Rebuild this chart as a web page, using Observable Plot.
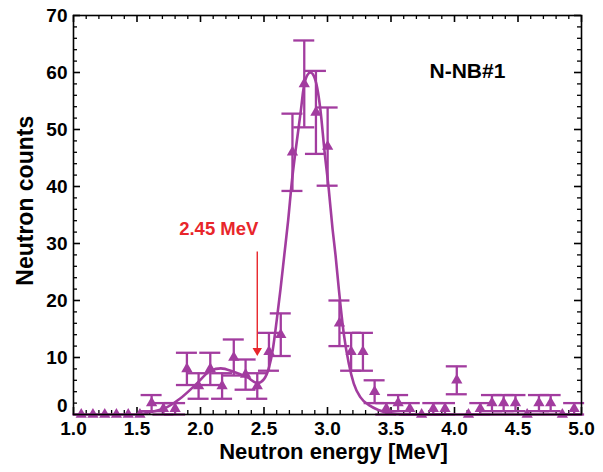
<!DOCTYPE html>
<html><head><meta charset="utf-8">
<script src="https://cdn.jsdelivr.net/npm/d3@7"></script>
<script src="https://cdn.jsdelivr.net/npm/@observablehq/plot@0.6"></script>
<style>
body{margin:0;background:#fff;}
svg{font-family:"Liberation Sans",Arial,Helvetica,sans-serif;}
</style>
</head><body><div id="chart"></div>
<script>
// Measured spectrum (bin centre energy, counts, error)
const energy = [1.061,1.153,1.246,1.338,1.431,1.523,1.615,1.708,1.800,1.893,1.985,2.077,2.170,2.262,2.355,2.447,2.539,2.632,2.724,2.817,2.909,3.001,3.094,3.186,3.279,3.371,3.463,3.556,3.648,3.741,3.833,3.925,4.018,4.110,4.203,4.295,4.387,4.480,4.572,4.665,4.757,4.849,4.942];
const counts = [0,0,0,0,0,0,2,1,1,8,5,8,5,10,7,5,11,14,46,58,53,47,16,11,11,4,1,2,1,0,1,1,6,0,1,2,2,2,0,2,2,0,1];
const errors = [0,0,0,0,0,0,1.41,1,1,2.83,2.24,2.83,2.24,3.16,2.65,2.24,3.32,3.74,6.78,7.62,7.28,6.86,4,3.32,3.32,2,1,1.41,1,0,1,1,2.45,0,1,1.41,1.41,1.41,0,1.41,1.41,0,1];
// Fit curve
const fitEnergy = [1.00,1.50,1.60,1.71,1.84,1.97,2.08,2.16,2.26,2.37,2.45,2.50,2.54,2.57,2.60,2.63,2.66,2.69,2.72,2.75,2.79,2.81,2.84,2.866,2.89,2.92,2.945,2.976,3.01,3.04,3.063,3.09,3.128,3.168,3.207,3.26,3.33,3.40,3.50,3.60,5.00];
const fitCounts = [0,0,0.4,1.0,2.8,5.4,7.7,8.1,7.5,6.5,5.5,6.2,8.3,11.5,16.5,22,28,34,41,46.5,53.3,57,59.5,60,59.5,57.2,53.3,46.3,39.5,32.5,28,21.8,14.2,8.9,5.4,3.0,1.6,0.8,0.2,0,0];
// Axis ticks
const xMajorTicks = [1.0,1.5,2.0,2.5,3.0,3.5,4.0,4.5,5.0];
const xMinorTicks = [1.1,1.2,1.3,1.4,1.6,1.7,1.8,1.9,2.1,2.2,2.3,2.4,2.6,2.7,2.8,2.9,3.1,3.2,3.3,3.4,3.6,3.7,3.8,3.9,4.1,4.2,4.3,4.4,4.6,4.7,4.8,4.9];
const yMajorTicks = [0,10,20,30,40,50,60,70];
const yMinorTicks = [2,4,6,8,12,14,16,18,22,24,26,28,32,34,36,38,42,44,46,48,52,54,56,58,62,64,66,68];
const xTitle = "Neutron energy [MeV]";
const yTitle = "Neutron counts";
const seriesLabel = "N-NB#1";
const markerLabel = "2.45 MeV";
const markerEnergy = 2.447;

const purple = "#a23c9f";
const red = "#e8262b";
const W = 603, H = 472, mT = 15, mR = 22, mB = 58, mL = 73;
const fw = W - mL - mR, fh = H - mT - mB;

const points = energy.map((x, i) => ({x, y: counts[i], e: errors[i]}));
const withErr = points.filter(d => d.e > 0);
const fit = fitEnergy.map((x, i) => ({x, y: fitCounts[i]}));
const bold = {fontWeight: "bold", fill: "black"};

const chart = Plot.plot({
  width: W, height: H,
  marginTop: mT, marginRight: mR, marginBottom: mB, marginLeft: mL,
  x: {domain: [1, 5], axis: null},
  y: {domain: [0, 70], axis: null},
  style: {background: "white", overflow: "visible"},
  marks: [
    // ticks (inward, on all four sides)
    Plot.tickX(xMinorTicks, {x: d => d, insetTop: fh - 4, stroke: "black", strokeWidth: 1.3}),
    Plot.tickX(xMinorTicks, {x: d => d, insetBottom: fh - 4, stroke: "black", strokeWidth: 1.3}),
    Plot.tickX(xMajorTicks, {x: d => d, insetTop: fh - 7, stroke: "black", strokeWidth: 1.6}),
    Plot.tickX(xMajorTicks, {x: d => d, insetBottom: fh - 7, stroke: "black", strokeWidth: 1.6}),
    Plot.tickY(yMinorTicks, {y: d => d, insetRight: fw - 4, stroke: "black", strokeWidth: 1.3}),
    Plot.tickY(yMinorTicks, {y: d => d, insetLeft: fw - 4, stroke: "black", strokeWidth: 1.3}),
    Plot.tickY(yMajorTicks, {y: d => d, insetRight: fw - 7, stroke: "black", strokeWidth: 1.6}),
    Plot.tickY(yMajorTicks, {y: d => d, insetLeft: fw - 7, stroke: "black", strokeWidth: 1.6}),
    // tick labels
    Plot.text(xMajorTicks, {x: d => d, frameAnchor: "bottom", dy: 20, text: d => d.toFixed(1), fontSize: 19, ...bold}),
    Plot.text(yMajorTicks.filter(d => d > 0), {y: d => d, frameAnchor: "left", dx: -6, textAnchor: "end", text: d => String(d), fontSize: 19, ...bold}),
    Plot.text(yMajorTicks.filter(d => d === 0), {y: d => d, frameAnchor: "left", dx: -6, dy: -9, textAnchor: "end", text: d => String(d), fontSize: 19, ...bold}),
    // axis titles
    Plot.text([xTitle], {frameAnchor: "bottom", dy: 44, dx: 6, text: d => d, fontSize: 22, ...bold}),
    Plot.text([yTitle], {x: 0.622, y: 37.5, rotate: -90, text: d => d, fontSize: 23, ...bold}),
    // fit curve
    Plot.line(fit, {x: "x", y: "y", stroke: purple, strokeWidth: 2.6, curve: "monotone-x"}),
    // error bars
    Plot.ruleX(withErr, {x: "x", y1: d => d.y - d.e, y2: d => d.y + d.e, stroke: purple, strokeWidth: 2.3}),
    Plot.ruleY(withErr, {y: d => d.y + d.e, x1: "x", x2: "x", insetLeft: -10.5, insetRight: -10.5, stroke: purple, strokeWidth: 2.3}),
    Plot.ruleY(withErr, {y: d => d.y - d.e, x1: "x", x2: "x", insetLeft: -10.5, insetRight: -10.5, stroke: purple, strokeWidth: 2.3}),
    // data points
    Plot.dot(points, {x: "x", y: "y", symbol: "triangle", r: 4.2, fill: purple, stroke: "none"}),
    // 2.45 MeV marker
    Plot.ruleX([markerEnergy], {x: d => d, y1: 28.5, y2: 11.5, stroke: red, strokeWidth: 1.4}),
    Plot.dot([markerEnergy], {x: d => d, y: 11.2, symbol: "triangle", rotate: 180, r: 3.5, fill: red, stroke: "none"}),
    Plot.text([markerLabel], {x: 2.144, y: 32.6, text: d => d, fontSize: 18.5, fontWeight: "bold", fill: red}),
    Plot.text([seriesLabel], {x: 4.102, y: 60.2, text: d => d, fontSize: 21, ...bold}),
    Plot.frame({stroke: "black", strokeWidth: 1.6})
  ]
});
document.getElementById("chart").appendChild(chart);
</script>
</body></html>
